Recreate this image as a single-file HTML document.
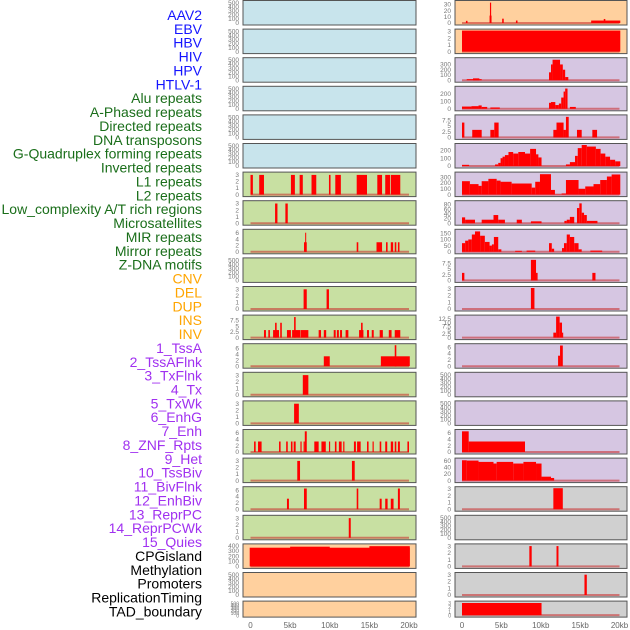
<!DOCTYPE html>
<html><head><meta charset="utf-8"><style>
html,body{margin:0;padding:0;background:#fff;}
svg{display:block;font-family:"Liberation Sans",sans-serif;}
</style></head><body>
<svg id="c" width="630" height="630" viewBox="0 0 630 630" xmlns="http://www.w3.org/2000/svg"></svg>
<script>
const labels = ["AAV2","EBV","HBV","HIV","HPV","HTLV-1","Alu repeats","A-Phased repeats","Directed repeats","DNA transposons","G-Quadruplex forming repeats","Inverted repeats","L1 repeats","L2 repeats","Low_complexity A/T rich regions","Microsatellites","MIR repeats","Mirror repeats","Z-DNA motifs","CNV","DEL","DUP","INS","INV","1_TssA","2_TssAFlnk","3_TxFlnk","4_Tx","5_TxWk","6_EnhG","7_Enh","8_ZNF_Rpts","9_Het","10_TssBiv","11_BivFlnk","12_EnhBiv","13_ReprPC","14_ReprPCWk","15_Quies","CPGisland","Methylation","Promoters","ReplicationTiming","TAD_boundary"];
const labelColors = {blue:"#1414ff",green:"#1a6e1a",orange:"#ffa500",purple:"#a030f0",black:"#000"};
const labelGroups = ["blue","blue","blue","blue","blue","blue","green","green","green","green","green","green","green","green","green","green","green","green","green","orange","orange","orange","orange","orange","purple","purple","purple","purple","purple","purple","purple","purple","purple","purple","purple","purple","purple","purple","purple","black","black","black","black","black"];
const bgColors = {blue:"#c8e4ec",green:"#c8e0a2",orange:"#ffd09e",purple:"#d6c6e2",grey:"#d0d0d0"};
const leftBg = ["blue","blue","blue","blue","blue","blue","green","green","green","green","green","green","green","green","green","green","green","green","green","orange","orange","orange"];
const rightBg = ["orange","orange","purple","purple","purple","purple","purple","purple","purple","purple","purple","purple","purple","purple","purple","purple","purple","grey","grey","grey","grey","grey"];
const T500=[0,100,200,300,400,500], T3=[0,1,2,3], T6=[0,2,4,6], T75=[0,2.5,5,7.5];
const leftTicks = [T500,T500,T500,T500,T500,T500,T3,T3,T6,T500,T3,T75,T6,T3,T3,T6,T3,T6,T3,[0,100,200,300,400],T500,T500];
const leftYMax = [520,520,520,520,520,520,3.2,3.2,6.6,520,3.2,9.2,7,3.2,3.2,6.6,3.2,6.6,3.2,410,520,520];
const rightTicks = [[0,10,20,30],T3,[0,100,200,300],[0,100,200],T75,[0,100,200],[0,100,200,300],[0,20,40,60,80],[0,50,100,150],T75,T3,[0,2.5,5,7.5,10,12.5],T6,T500,T500,T6,[0,20,40,60],T3,T500,T3,T3,T3];
const rightYMax = [34,3.1,400,280,9.2,270,360,90,170,9.2,3.1,14,6.6,520,520,6.6,64,3.1,520,3.1,3.1,3.1];
// bars: [startKb, endKb, value]
const leftBars = [[],[],[],[],[],[],
[[0,0.3,3],[1.1,1.7,3],[5.1,5.6,3],[6.2,6.6,3],[7.7,8.3,3],[9.9,10.1,3],[10.7,11.4,3],[13.4,14.7,3],[16.0,16.6,3],[17.0,17.6,3],[17.7,18.9,3]],
[[3.1,3.4,3],[4.4,4.7,3]],
[[6.75,7.1,3],[6.9,7.0,6],[13.4,13.6,3],[15.9,16.6,3],[17.1,17.3,3],[17.7,18.0,3],[18.2,18.4,3],[18.6,18.8,3]],
[],
[[6.7,7.1,3],[9.6,9.9,3]],
[[1.7,1.95,3.3],[2.25,2.45,3.3],[2.85,3.6,3.3],[3.1,3.3,6.5],[3.75,3.95,6.5],[4.6,5.1,3.3],[5.25,6.25,3.3],[5.5,5.7,9],[6.3,7.3,3.3],[8.6,8.9,3.3],[9.25,9.55,3.3],[10.5,10.75,3.3],[10.9,11.15,3.3],[11.3,11.55,3.3],[12.0,12.35,3.3],[13.7,14.25,3.3],[13.95,14.15,6.5],[14.7,14.95,3.3],[15.3,15.55,3.3],[16.3,16.7,3.3],[17.45,17.8,3.3],[18.2,18.9,3.3]],
[[9.25,10.0,3.3],[16.45,20.1,3.3],[18.2,18.4,7]],
[[6.6,7.3,3]],
[[5.5,6.1,3]],
[[0.45,0.65,3.3],[0.95,1.4,3.3],[3.6,3.8,3.3],[4.5,4.7,3.3],[5.1,5.3,3.3],[5.45,5.7,3.3],[6.3,6.45,3.3],[6.7,6.85,3.3],[6.85,7.1,6.5],[8.05,8.6,3.3],[8.95,9.5,3.3],[9.9,10.05,3.3],[10.65,10.85,3.3],[11.15,11.5,3.3],[11.7,11.85,3.3],[13.05,13.3,3.3],[13.45,13.9,3.3],[14.7,14.9,3.3],[15.4,15.55,3.3],[16.3,16.5,3.3],[17.0,17.25,3.3],[17.7,18.0,3.3],[18.2,18.4,3.3],[18.6,18.85,3.3],[19.8,20.0,3.3]],
[[5.9,6.25,3],[12.8,13.15,3]],
[[4.6,4.85,3.3],[6.75,7.1,6.5],[13.4,13.6,6.5],[16.3,16.55,3.3],[17.0,17.3,3.3],[17.7,18.05,3.3],[18.6,18.85,6.5]],
[[12.4,12.65,3]],
[[-0.1,20.1,365],[5,10,385],[15,20.1,395]],
[],[]];
const rightBars = [
[[0.5,0.7,3.5],[3.5,3.75,12],[3.55,3.7,33],[5.1,5.3,7],[6.85,7.05,4],[16.4,20.1,4],[18.0,18.2,6.5]],
[[0,20.1,3.1]],
[[0.6,2.5,20],[1.4,2.2,35],[11.05,11.3,150],[11.3,11.5,300],[11.5,12.45,390],[12.45,12.8,300],[12.8,13.1,200],[13.1,13.5,60]],
[[0,1.2,30],[1.2,2.1,35],[2.1,2.5,45],[2.5,3.2,25],[3.6,4.8,18],[11.05,11.3,80],[11.3,11.85,90],[11.85,12.3,50],[12.3,12.6,70],[12.6,12.9,150],[12.9,13.1,230],[13.1,13.4,270],[13.7,14.45,25]],
[[0,0.3,6.5],[1.3,2.5,3.3],[3.6,4.1,3.3],[4.1,4.65,6.5],[11.6,12.0,3.3],[12.0,12.9,6.5],[12.9,13.2,3.3],[13.2,13.55,9],[14.6,15.2,3.3],[16.55,17.15,3.3]],
[[0,0.9,15],[4.2,4.6,20],[4.6,4.9,40],[4.9,5.15,100],[5.15,5.45,120],[5.45,5.9,140],[5.9,6.5,180],[6.5,7.15,160],[7.15,8.0,180],[8.0,8.65,160],[8.65,9.4,220],[9.4,9.7,150],[9.7,10.1,110],[13.2,13.7,20],[13.7,14.35,50],[14.35,14.7,130],[14.7,15.2,230],[15.2,15.85,270],[15.85,17.0,250],[17.0,17.6,220],[17.6,18.2,160],[18.2,18.8,120],[18.8,19.45,80],[19.45,20.1,60]],
[[0,1.0,230],[1.0,2.1,180],[2.1,2.5,150],[2.5,3.35,230],[3.35,4.4,270],[4.4,4.9,240],[4.9,6.3,220],[6.3,8.85,190],[8.85,9.3,120],[9.3,9.9,220],[9.9,11.3,350],[11.3,11.8,80],[11.8,12.65,5],[12.65,13.2,20],[13.2,14.8,250],[14.8,15.65,100],[15.65,16.7,140],[16.7,17.55,180],[17.55,18.4,250],[18.4,19.0,310],[19.0,20.1,345]],
[[0,0.4,25],[0.4,1.65,15],[2.5,4.0,15],[4.0,4.6,35],[4.6,5.45,15],[6.95,7.6,15],[8.75,10.1,8],[13.0,13.3,10],[13.3,13.7,15],[13.7,14.25,27],[14.6,14.9,65],[14.9,15.2,85],[15.2,15.5,45],[15.5,15.85,35],[15.85,17.2,10]],
[[0,0.4,70],[0.4,0.8,90],[0.8,1.25,100],[1.25,1.65,140],[1.65,2.3,165],[2.3,2.9,130],[2.9,3.5,80],[3.5,3.8,50],[3.8,4.05,60],[4.05,4.6,120],[4.6,5.0,20],[6.75,7.6,8],[8.2,9.3,10],[11.05,11.4,70],[11.4,11.7,25],[12.7,12.95,30],[12.95,13.3,70],[13.3,13.7,140],[13.7,14.25,120],[14.25,14.8,70],[14.8,15.2,20],[16.3,17.8,10]],
[[0,0.3,3.3],[8.75,9.4,9],[9.4,9.6,3.3],[16.55,16.95,3.3]],
[[8.75,9.2,3.1]],
[[11.6,11.95,3.3],[11.95,12.4,14],[12.4,12.7,10],[12.7,12.85,3.3]],
[[12.2,12.45,3.3],[12.45,12.8,6.5]],
[],[],
[[0,0.85,6.5],[0.85,8.0,3.3]],
[[0,0.6,62],[0.6,2.1,61],[2.1,4.0,57],[4.0,4.4,52],[4.4,6.5,57],[6.5,7.8,52],[7.8,9.4,57],[9.4,10.1,52],[10.1,11.3,12],[11.3,11.7,8]],
[[11.6,12.8,3.1]],
[],
[[8.55,8.85,3],[12.0,12.25,3]],
[[15.55,15.85,3]],
[[0,10.1,3]]];

const svg = document.getElementById('c');
const NS = "http://www.w3.org/2000/svg";
function mk(tag, attrs, parent){ const e=document.createElementNS(NS,tag); for(const k in attrs) e.setAttribute(k,attrs[k]); (parent||svg).appendChild(e); return e; }

labels.forEach((t,i)=>{
  const e = mk('text',{x:202,y:15+i*13.87+5,'text-anchor':'end','font-size':14,fill:labelColors[labelGroups[i]]});
  e.textContent = t;
  
  
});

const cols = [
  {x0:243,x1:416,k0:250.5,k20:409,tickX:239,bg:leftBg,ticks:leftTicks,ymax:leftYMax,bars:leftBars,name:'left'},
  {x0:455,x1:627,k0:462,k20:619.5,tickX:451,bg:rightBg,ticks:rightTicks,ymax:rightYMax,bars:rightBars,name:'right'}
];
cols.forEach(c=>{
  const xs = kb => c.k0 + (kb)*(c.k20-c.k0)/20;
  for(let i=0;i<22;i++){
    const top = 0.5 + i*28.6;
    const h = i===21 ? 16 : 24.5;
    const g = mk('g',{});
    
    
    mk('rect',{x:c.x0,y:top,width:c.x1-c.x0,height:h,fill:bgColors[c.bg[i]],stroke:'#555','stroke-width':1},g);
    const y0 = top + h - 2, ytop = top + 1.5;
    const ys = v => y0 - v*(y0-ytop)/c.ymax[i];
    c.ticks[i].forEach(tv=>{
      const t = mk('text',{x:c.tickX,y:ys(tv)+2.2,'text-anchor':'end','font-size':i===21?5:6.5,fill:'#777'},g);
      t.textContent = String(tv);
      
      
    });
    const bars = c.bars[i];
    if(bars.length){
      mk('line',{x1:xs(0),x2:xs(20),y1:y0,y2:y0,stroke:'rgba(200,40,40,0.55)','stroke-width':2},g);
    }
    bars.forEach(b=>{
      const r = mk('rect',{x:xs(b[0]),y:ys(b[2]),width:Math.max(1,xs(b[1])-xs(b[0])),height:y0-ys(b[2]),fill:'#ff0000'},g);
      
      
    });
  }
  ['0','5kb','10kb','15kb','20kb'].forEach((lab,j)=>{
    const t = mk('text',{x:xs(j*5),y:628,'text-anchor':'middle','font-size':8,fill:'#666'});
    t.textContent = lab;
    
    
  });
});
</script>
</body></html>
